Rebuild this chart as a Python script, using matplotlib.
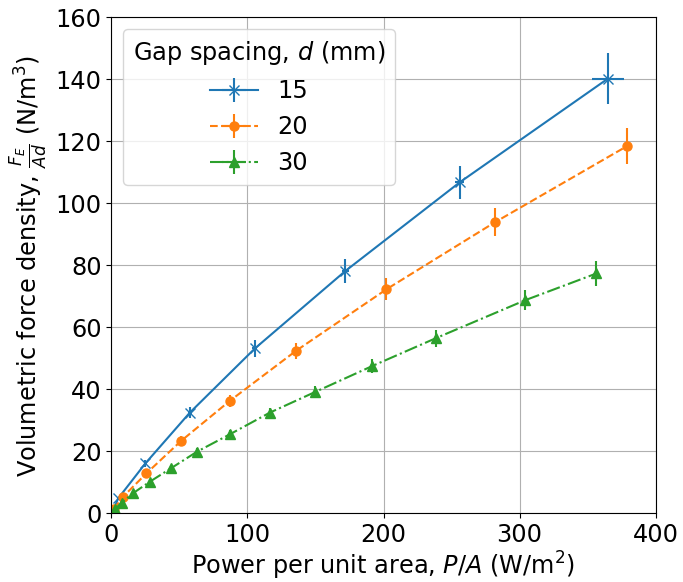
import matplotlib.pyplot as plt
import numpy as np

plt.rcParams['font.size'] = 17.3

# Gap spacing d = 15 mm
p15 = [2.0, 5.0, 25.0, 57.5, 105.5, 172.0, 256.0, 365.0]
f15 = [1.5, 4.8, 16.1, 32.4, 53.2, 78.2, 106.8, 140.3]
p15_err = [0.2, 0.4, 0.8, 1.2, 1.8, 2.5, 3.5, 11.6]
f15_err = [0.3, 0.6, 1.2, 1.8, 2.6, 3.8, 5.3, 8.2]

# Gap spacing d = 20 mm
p20 = [2.0, 8.7, 25.8, 51.1, 87.1, 135.6, 202.2, 281.8, 379.0]
f20 = [1.5, 5.4, 12.9, 23.3, 36.3, 52.4, 72.3, 93.9, 118.5]
p20_err = [0.1, 0.2, 0.4, 0.6, 0.8, 1.0, 1.3, 1.6, 2.0]
f20_err = [0.2, 0.5, 1.0, 1.5, 2.0, 2.6, 3.6, 4.5, 5.8]

# Gap spacing d = 30 mm
p30 = [2.6, 7.5, 16.0, 28.3, 43.7, 63.0, 87.1, 116.5, 150.0, 191.6, 238.4, 304.3, 356.5]
f30 = [1.3, 3.4, 6.5, 10.2, 14.5, 19.9, 25.5, 32.5, 39.2, 47.5, 56.5, 68.8, 77.4]
p30_err = [0.1, 0.2, 0.3, 0.4, 0.5, 0.6, 0.8, 1.0, 1.2, 1.4, 1.6, 1.8, 2.0]
f30_err = [0.2, 0.3, 0.5, 0.7, 0.9, 1.1, 1.3, 1.6, 1.9, 2.2, 2.7, 3.2, 4.0]

fig, ax = plt.subplots(figsize=(6.83, 5.82), dpi=100)
fig.subplots_adjust(left=0.163, right=0.960, bottom=0.118, top=0.970)

ax.errorbar(p15, f15, xerr=p15_err, yerr=f15_err, fmt='x-', color='tab:blue',
            markersize=7, label='15')
ax.errorbar(p20, f20, xerr=p20_err, yerr=f20_err, fmt='o--', color='tab:orange',
            markersize=6.5, label='20')
ax.errorbar(p30, f30, xerr=p30_err, yerr=f30_err, fmt='^-.', color='tab:green',
            markersize=6.5, label='30')

ax.set_xlim(0, 400)
ax.set_ylim(0, 160)
ax.set_xticks(np.arange(0, 401, 100))
ax.set_yticks(np.arange(0, 161, 20))
ax.grid(True)

ax.set_xlabel('Power per unit area, $P/A$ (W/m$^2$)', labelpad=2)
ax.set_ylabel(r'Volumetric force density, $\frac{F_E}{Ad}$ (N/m$^3$)')

ax.legend(title='Gap spacing, $d$ (mm)', loc='upper left')

plt.savefig('out.png', dpi=100)
